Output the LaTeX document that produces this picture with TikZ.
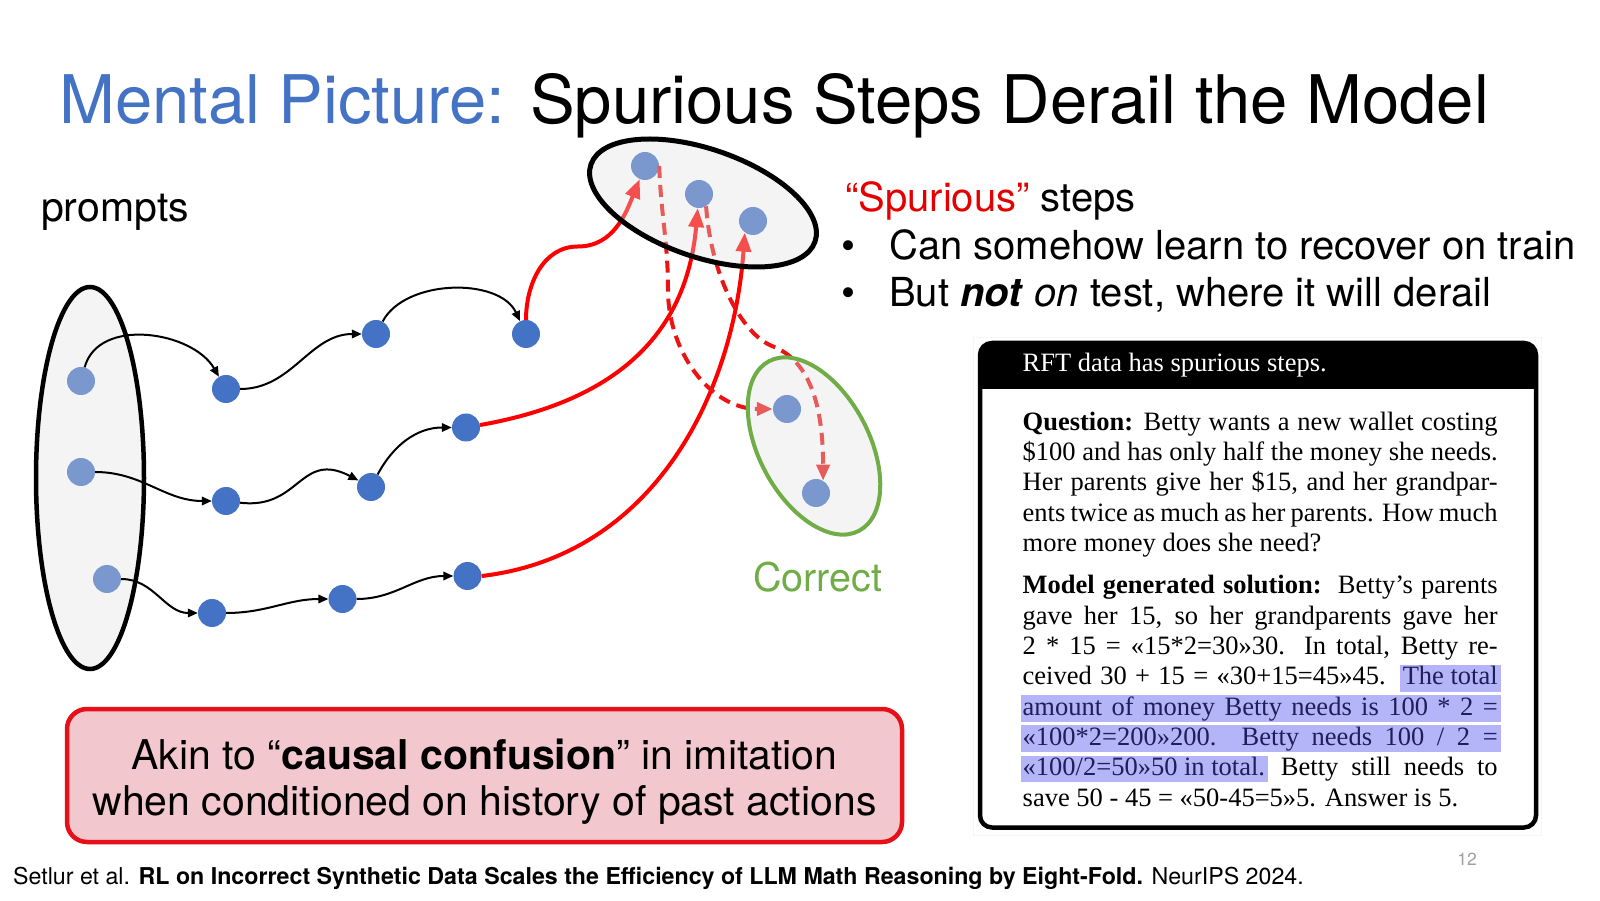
\documentclass[tikz,border=0pt]{standalone}
\usepackage{fontspec}
\setmainfont{TeX Gyre Heros}
\newfontfamily\paperfont{Liberation Serif}
\usetikzlibrary{arrows.meta}
\definecolor{tblue}{RGB}{68,114,196}
\definecolor{nblue}{RGB}{68,114,196}
\definecolor{sred}{RGB}{228,0,0}
\definecolor{lred}{RGB}{255,0,0}
\definecolor{dred}{RGB}{235,20,20}
\definecolor{cgreen}{RGB}{112,173,71}
\definecolor{ellf}{RGB}{225,225,225}
\definecolor{boxred}{RGB}{232,16,24}
\definecolor{boxpink}{RGB}{243,199,206}
\definecolor{hlc}{RGB}{180,180,248}
\definecolor{hltxt}{RGB}{30,30,90}
\definecolor{pgray}{RGB}{160,160,160}
\newcommand\hlt[1]{{\setlength{\fboxsep}{0pt}\colorbox{hlc}{\rule[-6.8pt]{0pt}{26.7pt}\color{hltxt}#1}}}
\begin{document}
\begin{tikzpicture}[x=1pt,y=1pt,
  dot/.style={circle, fill=nblue, minimum size=28pt, inner sep=0pt},
  blk/.style={draw=black, line width=2pt, -{Triangle[length=10pt,width=8.5pt]}},
  redl/.style={draw=lred, line width=4pt, -{Triangle[length=19pt,width=15pt]}},
  redd/.style={draw=dred, line width=4pt, dash pattern=on 12pt off 7pt, -{Triangle[length=16pt,width=13pt]}},
  ell/.style={fill=ellf, fill opacity=0.35, draw opacity=1},
  txt/.style={anchor=base west, inner sep=0pt},
  ptxt/.style={anchor=base west, inner sep=0pt, font=\paperfont\fontsize{26.5}{30}\selectfont},
]
\useasboundingbox (0,0) rectangle (1600,900);
\fill[white] (0,0) rectangle (1600,900);

% title and labels
\node[txt] (title) at (59,776.5) {\fontsize{67}{80}\selectfont\textcolor{tblue}{Mental Picture:} Spurious Steps Derail the Model};
\node[txt] (prompts) at (41,678) {\fontsize{41}{48}\selectfont prompts};

% nodes
\node[dot] (p1) at (81,519) {};
\node[dot] (p2) at (81,428) {};
\node[dot] (p3) at (107,321) {};
\node[dot] (a1) at (226,511) {};
\node[dot] (a2) at (376,566) {};
\node[dot] (a3) at (526,566) {};
\node[dot] (b1) at (226,399) {};
\node[dot] (b2) at (371,413) {};
\node[dot] (b3) at (466,472.5) {};
\node[dot] (c1) at (212,287) {};
\node[dot] (c2) at (342.5,301) {};
\node[dot] (c3) at (467.5,324) {};
\node[dot] (t1) at (645,734) {};
\node[dot] (t2) at (699,706) {};
\node[dot] (t3) at (753,679) {};
\node[dot] (g1) at (787,491) {};
\node[dot] (g2) at (816,407) {};

% red connectors
\coordinate (r1m) at (578,653.5);
\draw[redl] (a3) to[out=90,in=180] (r1m) to[out=0,in=-112] (t1);
\draw[redl] (b3) to[out=10,in=-95,looseness=1.1] (t2);
\draw[redl] (c3.east) .. controls +(170,20) and +(-12,-165) .. (t3.-125);
\coordinate (dm1) at (668,610);
\draw[redd] (t1.east) to[out=-88,in=90] (dm1) to[out=-90,in=180] (g1);
\coordinate (dm2) at (772,554);
\draw[redd] (t2.-60) .. controls +(5,-70) and +(-30,12) .. (dm2) .. controls +(40,-15) and +(0,70) .. (g2.60);

% ellipses
\draw[ell, draw=black, line width=4.5pt] (90,422) ellipse [x radius=54pt, y radius=191pt];
\draw[ell, draw=black, line width=5pt, rotate around={-19:(703,697)}] (703,697) ellipse [x radius=118.5pt, y radius=54pt];
\draw[ell, draw=cgreen, line width=4pt, rotate around={-62:(814,454)}] (814,454) ellipse [x radius=96pt, y radius=55pt];

% black connectors
\draw[blk] (p1) to[out=75,in=120] (a1);
\draw[blk] (a1) to[out=0,in=180] (a2);
\draw[blk] (a2) to[out=62,in=115,looseness=0.9] (a3);
\draw[blk] (p2) to[out=0,in=180] (b1);
\draw[blk] (b1) .. controls (300,390) and (300,450) .. (b2);
\draw[blk] (b2) to[out=62,in=180] (b3);
\draw[blk] (p3) to[out=0,in=180] (c1);
\draw[blk] (c1) to[out=0,in=180] (c2);
\draw[blk] (c2) to[out=0,in=180] (c3);

\node[txt, text=cgreen] (correct) at (753,308.3) {\fontsize{39.5}{46}\selectfont Correct};

% right text
\node[txt] (sp) at (845,688.3) {\fontsize{40}{48}\selectfont\textcolor{sred}{“Spurious”} steps};
\node[anchor=base, inner sep=0pt] (bul1) at (848,640) {\fontsize{40}{48}\selectfont\textbullet};
\node[txt] (l1) at (889,640) {\fontsize{40}{48}\selectfont Can somehow learn to recover on train};
\node[anchor=base, inner sep=0pt] (bul2) at (848,593.3) {\fontsize{40}{48}\selectfont\textbullet};
\node[txt] (l2) at (889,593.3) {\fontsize{40}{48}\selectfont But \textbf{\textit{not}} \textit{on} test, where it will derail};

% red box
\node[draw=boxred, fill=boxpink, line width=4.5pt, rounded corners=20pt, minimum width=835pt, minimum height=133pt, inner sep=0pt] (akin) at (484.5,124.5) {};
\node[anchor=base, inner sep=0pt] (ak1) at (484.5,131) {\fontsize{41}{48}\selectfont Akin to “\textbf{causal confusion}” in imitation};
\node[anchor=base, inner sep=0pt] (ak2) at (484.5,85) {\fontsize{41}{48}\selectfont when conditioned on history of past actions};

% footer
\node[txt] (foot) at (13,16) {\fontsize{23.2}{28}\selectfont Setlur et al. \textbf{RL on Incorrect Synthetic Data Scales the Efficiency of LLM Math Reasoning by Eight-Fold.} NeurIPS 2024.};
\node[anchor=base, inner sep=0pt, text=pgray] (pg) at (1467,35) {\fontsize{17.5}{20}\selectfont 12};

% RFT box
\draw[gray!8, line width=1pt] (973,65) rectangle (1541,562);
\begin{scope}
 \clip[rounded corners=12pt] (980,72.5) rectangle (1536,557);
 \fill[white] (980,72.5) rectangle (1536,557);
 \fill[black] (980,511) rectangle (1536,557);
\end{scope}
\draw[line width=4.5pt, rounded corners=12pt] (980,72.5) rectangle (1536,557);

\node[ptxt, text=white] (rft) at (1022.5,528) {RFT data has spurious steps.};
\node[ptxt] (q1) at (1022.5,469.4) {\hbox to 475pt{\textbf{Question:} Betty wants a new wallet costing}};
\node[ptxt] (q2) at (1022.5,439) {\hbox to 475pt{\$100 and has only half the money she needs.}};
\node[ptxt] (q3) at (1022.5,409) {\hbox to 475pt{Her parents give her \$15, and her grandpar-}};
\node[ptxt] (q4) at (1022.5,378.5) {\hbox to 475pt{ents twice as much as her parents. How much}};
\node[ptxt] (q5) at (1022.5,348) {more money does she need?};
\node[ptxt] (m1) at (1022.5,306) {\hbox to 475pt{\textbf{Model generated solution:}\ \ Betty’s parents}};
\node[ptxt] (m2) at (1022.5,275.5) {\hbox to 475pt{gave her 15, so her grandparents gave her}};
\node[ptxt] (m3) at (1022.5,246) {\hbox to 475pt{2 * 15 = «15*2=30»30. In total, Betty re-}};
\node[ptxt] (m4) at (1022.5,215.3) {\hbox to 478pt{ceived 30 + 15 = «30+15=45»45. \hlt{\kern3pt The total\kern3pt}}};
\node[ptxt] (m5) at (1020.5,185) {\hlt{\hbox to 480pt{\kern2pt amount of money Betty needs is 100 * 2 =\kern3pt}}};
\node[ptxt] (m6) at (1020.5,155) {\hlt{\hbox to 480pt{\kern2pt «100*2=200»200.\ \ Betty needs 100 / 2 =\kern3pt}}};
\node[ptxt] (m7) at (1020.5,124.5) {\hbox to 477pt{\hlt{\kern2pt«100/2=50»50 in total.\kern3pt} Betty still needs to}};
\node[ptxt] (m8) at (1022.5,94) {save 50 - 45 = «50-45=5»5. Answer is 5.};
\end{tikzpicture}
\end{document}
